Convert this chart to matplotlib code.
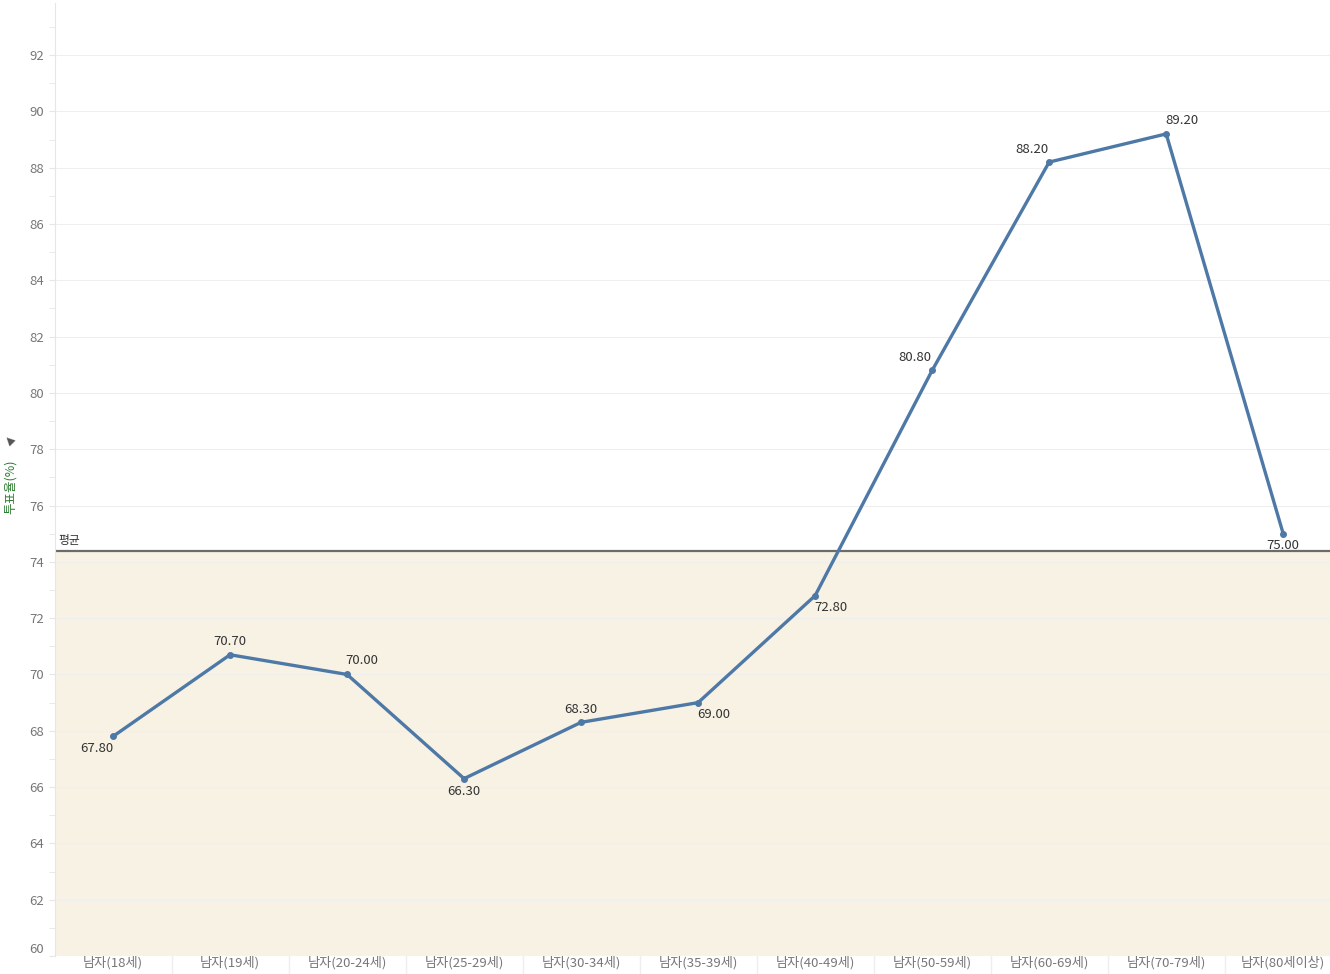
import matplotlib.pyplot as plt
import numpy as np

plt.rcParams['font.family'] = ['Noto Sans CJK KR', 'DejaVu Sans']

categories = ['남자(18세)', '남자(19세)', '남자(20-24세)', '남자(25-29세)', '남자(30-34세)',
              '남자(35-39세)', '남자(40-49세)', '남자(50-59세)', '남자(60-69세)',
              '남자(70-79세)', '남자(80세이상)']
turnout = [67.8, 70.7, 70.0, 66.3, 68.3, 69.0, 72.8, 80.8, 88.2, 89.2, 75.0]
# label placement: (dx px, dy px)
label_pos = [(-16, -12), (0, 13), (15, 14), (0, -13), (0, 13), (16, -12), (16, -12),
             (-17, 13), (-17, 13), (16, 13), (0, -12)]
yticks = list(range(60, 93, 2))

fig = plt.figure(figsize=(13.3, 9.74), dpi=100)
ax = fig.add_axes([55/1330, 18/974, 1275/1330, 953/974])

x = np.arange(len(categories))
average = np.mean(turnout)

ax.set_xlim(-0.496, 10.40)
ax.set_ylim(60, 93.85)

# band below the average line
ax.axhspan(60, average, color='#f8f2e5', zorder=0)
ax.axhline(average, color='#6b6b6b', lw=1.6, zorder=2)
ax.text(-0.47, average + 0.15, '평균', fontsize=8.5, color='#333333', va='bottom', ha='left')

for t in yticks[1:]:
    ax.axhline(t, color='#efefef', lw=0.8, zorder=1)

ax.plot(x, turnout, color='#4e79a7', lw=2.4, marker='o', ms=4, zorder=3)
for xi, v, (dx, dy) in zip(x, turnout, label_pos):
    ax.annotate(f'{v:.2f}', (xi, v), xytext=(dx, dy), textcoords='offset pixels',
                ha='center', va='center', fontsize=9.5, color='#333333')

ax.set_yticks(yticks)
ax.set_yticks(range(61, 94, 2), minor=True)
ax.set_xticks(x)
ax.set_xticklabels(categories)
ax.tick_params(axis='y', which='both', length=4, color='#e6e6e6', labelsize=9.5,
               labelcolor='#777777', pad=4)
ax.tick_params(axis='x', length=0, labelsize=9.5, labelcolor='#777777', pad=0)
# lowest tick label sits inside the axis area, as in the original
ax.get_yticklabels()[0].set_va('bottom')

# separators between x categories
for b in np.arange(0.5, len(categories) - 1, 1.0):
    ax.plot([b, b], [0, -0.02], transform=ax.get_xaxis_transform(), color='#eeeeee',
            lw=1, clip_on=False)

for s in ['top', 'right', 'bottom']:
    ax.spines[s].set_visible(False)
ax.spines['left'].set_color('#e6e6e6')

fig.text(10/1330, 0.5, '투표율(%)', rotation=90, ha='center', va='center',
         fontsize=9, color='#2e7d32')
fig.text(10/1330, 0.548, '▲', rotation=45, ha='center', va='center',
         fontsize=8, color='#555555', family=['DejaVu Sans'])

fig.savefig('out.png', dpi=100)
